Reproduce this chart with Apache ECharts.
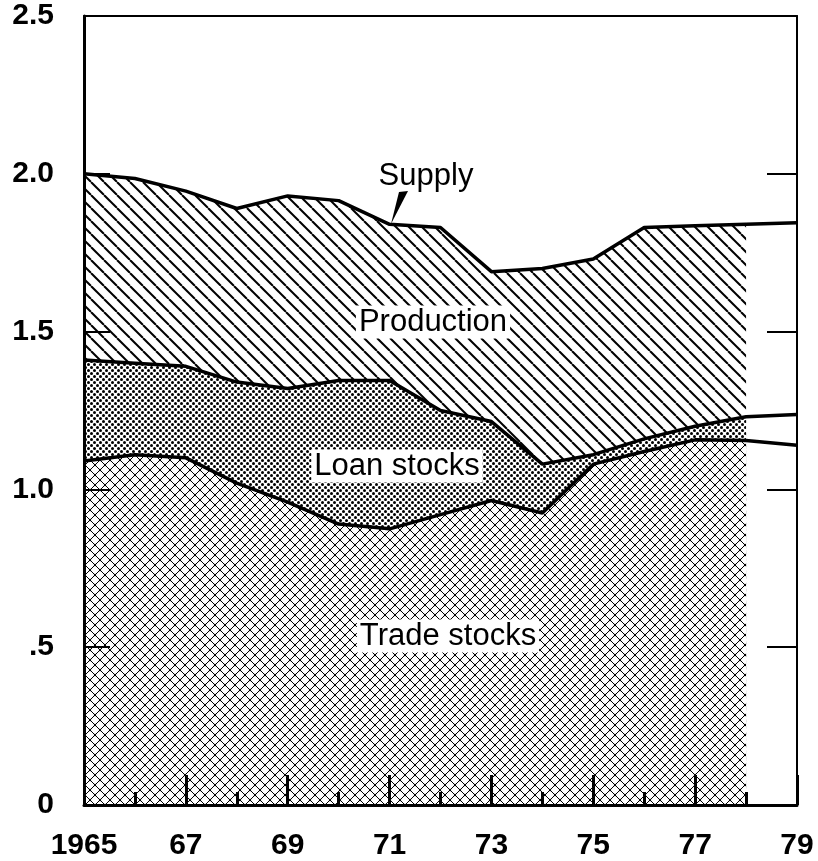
<!DOCTYPE html>
<html>
<head>
<meta charset="utf-8">
<script src="https://cdn.jsdelivr.net/npm/echarts@6/dist/echarts.min.js"></script>
<style>
  html, body { margin: 0; padding: 0; background: #fff; }
  #chart { width: 818px; height: 861px; }
</style>
</head>
<body>
<div id="chart"></div>
<script>
// years along the bottom
var years = ['1965','1966','1967','1968','1969','1970','1971','1972','1973','1974','1975','1976','1977','1978','1979'];
// top of each band
var supply    = [2.00, 1.985, 1.945, 1.89, 1.93, 1.915, 1.84, 1.83, 1.69, 1.70, 1.73, 1.83, 1.835, 1.84, 1.845];
var loanTop   = [1.41, 1.40, 1.39, 1.34, 1.32, 1.345, 1.345, 1.25, 1.215, 1.08, 1.11, 1.16, 1.20, 1.23, 1.237];
var tradeTop  = [1.09, 1.11, 1.10, 1.02, 0.96, 0.89, 0.875, 0.92, 0.965, 0.925, 1.08, 1.12, 1.157, 1.155, 1.14];
var lastFilled = '1978'; // shading stops here, lines go on to 1979

var FONT = '"Liberation Sans", Arial, Helvetica, sans-serif';

// fill patterns
function pattern(kind){
	var c = document.createElement('canvas');
	var ctx = c.getContext('2d');
	var s;
	if (kind === 'hatch') {
		s = 13; c.width = s; c.height = s;
		ctx.fillStyle = '#fff'; ctx.fillRect(0, 0, s, s);
		ctx.strokeStyle = '#000'; ctx.lineWidth = 2;
		[-s, 0, s].forEach(function(x0){
			ctx.beginPath(); ctx.moveTo(x0, 0); ctx.lineTo(x0 + s, s); ctx.stroke();
		});
	} else if (kind === 'dots') {
		s = 6; c.width = s; c.height = s;
		ctx.fillStyle = '#fff'; ctx.fillRect(0, 0, s, s);
		ctx.fillStyle = '#000';
		[[1.5,1.5],[4.5,4.5]].forEach(function(p){
			ctx.beginPath(); ctx.arc(p[0], p[1], 1.5, 0, Math.PI*2); ctx.fill();
		});
	} else {
		s = 10; c.width = s; c.height = s;
		ctx.fillStyle = '#fff'; ctx.fillRect(0, 0, s, s);
		ctx.strokeStyle = '#000'; ctx.lineWidth = 1;
		[-s, 0, s].forEach(function(x0){
			ctx.beginPath(); ctx.moveTo(x0, 0); ctx.lineTo(x0 + s, s); ctx.stroke();
			ctx.beginPath(); ctx.moveTo(x0, s); ctx.lineTo(x0 + s, 0); ctx.stroke();
		});
		ctx.fillStyle = '#000';
		[[0,0],[s,0],[0,s],[s,s],[s/2,s/2]].forEach(function(p){
			ctx.beginPath(); ctx.arc(p[0], p[1], 1.2, 0, Math.PI*2); ctx.fill();
		});
	}
	return { image: c, repeat: 'repeat' };
}

// cut a series off after the last shaded year
function upTo(arr){
	var end = years.indexOf(lastFilled);
	return arr.map(function(v, i){ return i <= end ? v : '-'; });
}

function areaSeries(name, data, fill, z){
	return {
		name: name, type: 'line', data: upTo(data), z: z,
		symbol: 'none', lineStyle: { width: 0 },
		areaStyle: { color: fill, opacity: 1 }
	};
}
function edgeSeries(name, data){
	return {
		name: name, type: 'line', data: data, z: 6,
		symbol: 'none', lineStyle: { color: '#000', width: 3.5 }
	};
}

var chart = echarts.init(document.getElementById('chart'));

var yLabel = function(v){
	if (v === 0) return '0';
	if (v === 0.5) return '.5';
	return v.toFixed(1);
};

var option = {
	animation: false,
	backgroundColor: '#fff',
	grid: { left: 84, right: 21, top: 16, bottom: 55 },
	xAxis: [
		{ // long ticks + labels on odd years
			type: 'category', data: years, boundaryGap: false, z: 10,
			axisLine: { lineStyle: { color: '#000', width: 3 } },
			axisTick: { inside: true, length: 30, interval: function(i){ return i % 2 === 0; },
				lineStyle: { color: '#000', width: 3 } },
			axisLabel: { interval: function(i){ return i % 2 === 0; }, margin: 26,
				color: '#000', fontSize: 30, fontWeight: 'bold', fontFamily: FONT,
				formatter: function(v, i){ return i === 0 ? v : v.slice(2); } },
			splitLine: { show: false }
		},
		{ // short ticks on even years
			type: 'category', data: years, boundaryGap: false, position: 'bottom', z: 10,
			axisLine: { show: false },
			axisTick: { inside: true, length: 13, interval: function(i){ return i % 2 === 1; },
				lineStyle: { color: '#000', width: 3 } },
			axisLabel: { show: false }, splitLine: { show: false }
		},
		{ // top frame
			type: 'category', data: years, boundaryGap: false, position: 'top', z: 10,
			axisLine: { lineStyle: { color: '#000', width: 2 } },
			axisTick: { show: false }, axisLabel: { show: false }, splitLine: { show: false }
		}
	],
	yAxis: [
		{
			type: 'value', min: 0, max: 2.5, interval: 0.5, z: 10,
			axisLine: { show: true, lineStyle: { color: '#000', width: 3 } },
			axisTick: { show: true, inside: true, length: 26, lineStyle: { color: '#000', width: 2 } },
			axisLabel: { margin: 30, color: '#000', fontSize: 30, fontWeight: 'bold', fontFamily: FONT,
				formatter: yLabel },
			splitLine: { show: false }
		},
		{
			type: 'value', min: 0, max: 2.5, interval: 0.5, position: 'right', z: 10,
			axisLine: { show: true, lineStyle: { color: '#000', width: 2 } },
			axisTick: { show: true, inside: true, length: 30, lineStyle: { color: '#000', width: 2 } },
			axisLabel: { show: false }, splitLine: { show: false }
		}
	],
	series: [
		areaSeries('Production', supply, pattern('hatch'), 2),
		areaSeries('Loan stocks', loanTop, pattern('dots'), 3),
		areaSeries('Trade stocks', tradeTop, pattern('cross'), 4),
		edgeSeries('Supply', supply),
		edgeSeries('Loan stocks edge', loanTop),
		edgeSeries('Trade stocks edge', tradeTop)
	]
};
chart.setOption(option);

// text labels sit in white boxes inside the bands
function tag(text, x, y){
	return {
		type: 'text', z: 100, x: x, y: y,
		style: { text: text, font: '31px ' + FONT, fill: '#000', align: 'center', verticalAlign: 'middle',
			backgroundColor: '#fff', padding: [1, 3, 1, 3] }
	};
}
chart.setOption({
	graphic: [
		tag('Production', 433, 322),
		tag('Loan stocks', 397, 466),
		tag('Trade stocks', 448, 636),
		{ type: 'text', z: 100, x: 426, y: 176,
			style: { text: 'Supply', font: '31px ' + FONT, fill: '#000', align: 'center', verticalAlign: 'middle' } },
		{ type: 'polygon', z: 100, shape: { points: [[399, 192], [408, 191], [391, 224]] },
			style: { fill: '#000' } }
	]
});
</script>
</body>
</html>
